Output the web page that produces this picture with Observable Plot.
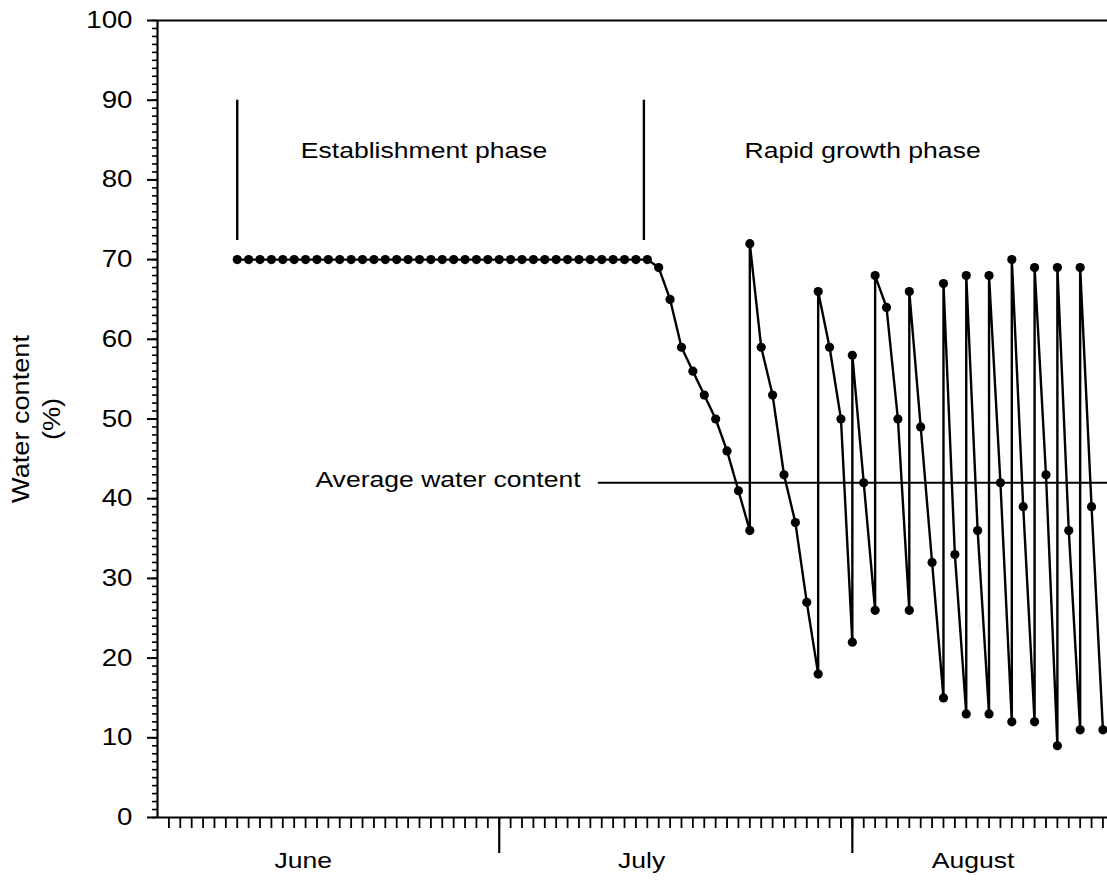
<!DOCTYPE html>
<html><head><meta charset="utf-8">
<script src="https://cdn.jsdelivr.net/npm/d3@7"></script>
<script src="https://cdn.jsdelivr.net/npm/@observablehq/plot@0.6"></script>
<style>body{margin:0;background:#fff} #chart{width:1107px;height:884px}</style>
</head><body><div id="chart"></div>
<script>
// Day index counted from 1 June (day 0 = start of June)
const days = [7,8,9,10,11,12,13,14,15,16,17,18,19,20,21,22,23,24,25,26,27,28,29,30,31,32,33,34,35,36,37,38,39,40,41,42,43,
  44,45,46,47,48,49,50,51,52,52,53,54,55,56,57,58,58,59,60,61,61,62,63,63,64,65,66,66,67,68,69,69,70,71,71,72,73,73,74,75,75,76,77,77,78,79,79,80,81,81,82,83];
const water = [70,70,70,70,70,70,70,70,70,70,70,70,70,70,70,70,70,70,70,70,70,70,70,70,70,70,70,70,70,70,70,70,70,70,70,70,70,
  69,65,59,56,53,50,46,41,36,72,59,53,43,37,27,18,66,59,50,22,58,42,26,68,64,50,26,66,49,32,15,67,33,13,68,36,13,68,42,12,70,39,12,69,43,9,69,36,11,69,39,11];
const monthNames = ["June", "July", "August"];
const monthLabelDays = [12.8, 42.5, 71.6];
const monthBoundaryDays = [30, 61];
const phaseNames = ["Establishment phase", "Rapid growth phase"];
const phaseStartDays = [7, 42.7];
const phaseLabelDays = [23.4, 61.9];
const phaseLabelLevel = 83.6;
const averageWater = 42;
const averageLabel = "Average water content";
const averageLabelDay = 25.5;
const averageLineStartDay = 38.7;
const yTicks = [0,10,20,30,40,50,60,70,80,90,100];
const yTitle = ["Water content", "(%)"];
const xMax = 83.4;

const data = days.map((d, i) => ({day: d, water: water[i]}));
const FONT = "'Liberation Sans', Arial, Helvetica, sans-serif";

const plot = Plot.plot({
  width: 1107, height: 884,
  marginLeft: 157, marginRight: 0, marginTop: 20, marginBottom: 67,
  x: {domain: [0, xMax], axis: null, label: null},
  y: {domain: [0, 100], axis: null, label: null},
  style: {fontFamily: FONT, fontSize: "22px", background: "white", color: "black"},
  marks: [
    Plot.axisY({ticks: d3.range(0, 101, 1), tickSize: 5, fill: "none", strokeWidth: 1.6, label: null}),
    Plot.axisY({ticks: yTicks, tickSize: 10, tickPadding: 15, fontSize: 23.5, strokeWidth: 2, label: null}),
    Plot.axisX({ticks: d3.range(1, 84, 1), tickSize: 11, fill: "none", strokeWidth: 1.8, label: null}),
    Plot.axisX({ticks: monthBoundaryDays, tickSize: 36, fill: "none", strokeWidth: 2.2, label: null}),
    Plot.ruleX([0], {strokeWidth: 2.2}),
    Plot.ruleY([0], {strokeWidth: 2.2}),
    Plot.ruleY([100], {strokeWidth: 2.2}),
    Plot.text(monthNames, {x: (d, i) => monthLabelDays[i], text: d => d, frameAnchor: "bottom", dy: 50, fontSize: 22.5}),
    Plot.text([yTitle[0]], {text: d => d, y: () => 50, frameAnchor: "left", textAnchor: "middle", dx: -136, rotate: -90, fontSize: 23}),
    Plot.text([yTitle[1]], {text: d => d, y: () => 50, frameAnchor: "left", textAnchor: "middle", dx: -105, rotate: -90, fontSize: 23}),
    Plot.ruleX(phaseStartDays, {y1: 72.4, y2: 90, strokeWidth: 2.4}),
    Plot.text(phaseNames, {x: (d, i) => phaseLabelDays[i], y: () => phaseLabelLevel, text: d => d, fontSize: 22.5}),
    Plot.ruleY([averageWater], {x1: averageLineStartDay, x2: xMax, strokeWidth: 2}),
    Plot.text([averageLabel], {x: () => averageLabelDay, y: () => 42.4, text: d => d, fontSize: 22.5}),
    Plot.line(data, {x: "day", y: "water", stroke: "black", strokeWidth: 2.4}),
    Plot.dot(data, {x: "day", y: "water", r: 4.6, fill: "black", stroke: "none"})
  ]
});
document.getElementById("chart").append(plot);
// widen glyphs along the baseline to match the reference's wide sans-serif
d3.select(plot).selectAll("text").each(function() {
  const L = this.getComputedTextLength();
  if (L > 0) {
    this.setAttribute("textLength", (L * 1.18).toFixed(1));
    this.setAttribute("lengthAdjust", "spacingAndGlyphs");
  }
});
</script>
</body></html>
